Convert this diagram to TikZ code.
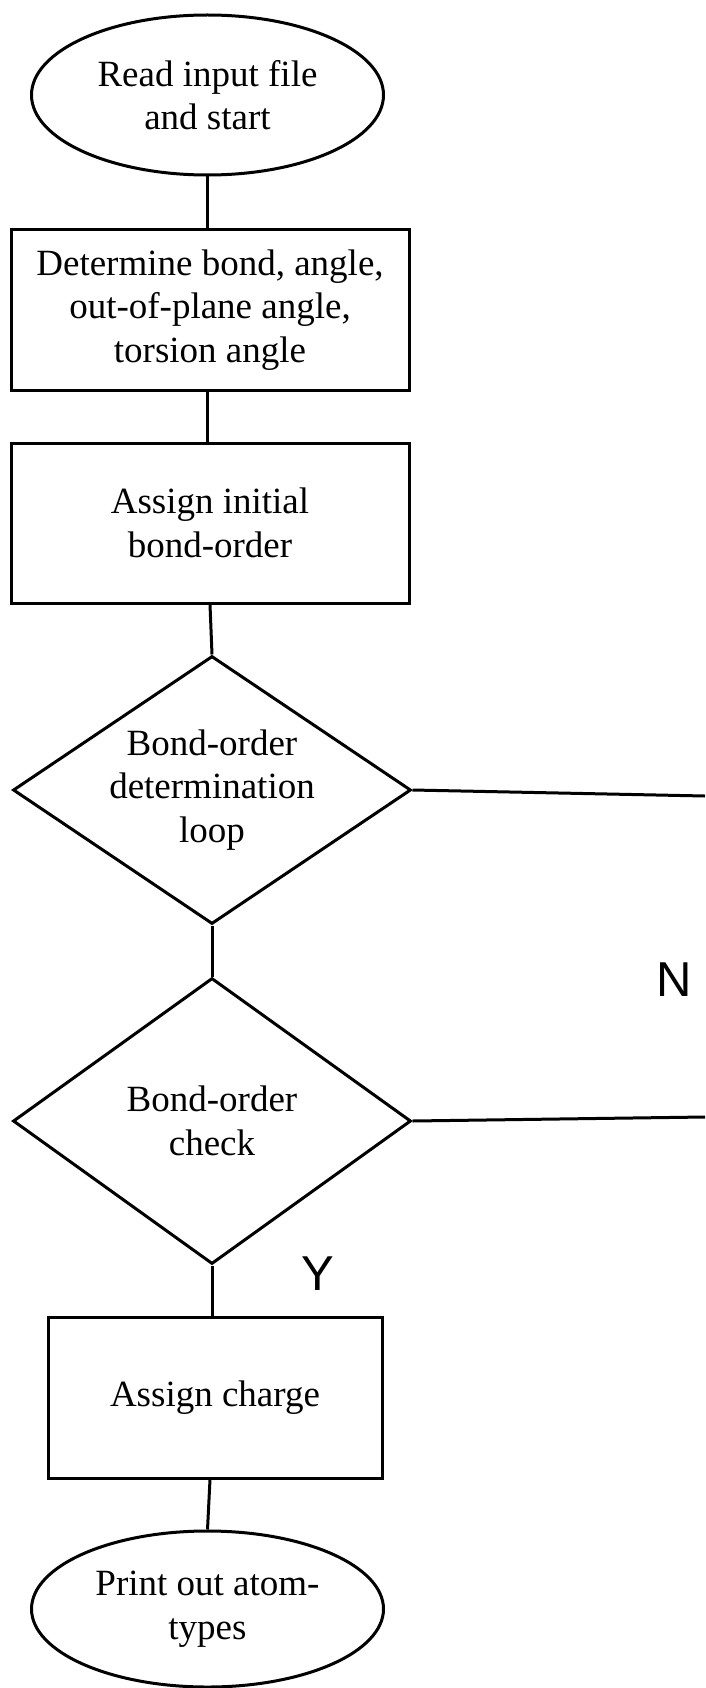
\documentclass[tikz,border=0pt]{standalone}
\usepackage{fontspec}
\setmainfont{Liberation Serif}
\newfontfamily\yesnofont{Liberation Sans}
\usetikzlibrary{shapes.geometric}

\begin{document}
\begin{tikzpicture}[
  x=1pt, y=-1pt,
  line width=3pt,
  term/.style={draw, ellipse, inner sep=0pt, minimum width=352pt, minimum height=160pt, align=center, font=\fontsize{37}{43.5}\selectfont},
  proc/.style={draw, rectangle, inner sep=0pt, minimum width=398pt, minimum height=160pt, align=center, font=\fontsize{37}{43.5}\selectfont},
  decide/.style={draw, diamond, aspect=1.5, inner sep=0pt, minimum width=398pt, align=center, font=\fontsize{37}{43.5}\selectfont},
  link/.style={line width=3pt},
  yesno/.style={inner sep=0pt, font=\yesnofont\fontsize{49}{49}\selectfont},
]
\useasboundingbox (0,0) rectangle (705,1688);

\node[term] (start) at (207.5, 95) {Read input file\\and start};
\node[proc] (geom) at (210, 310) {Determine bond, angle,\\out-of-plane angle,\\torsion angle};
\node[proc] (init) at (210, 523) {Assign initial\\bond-order};
\node[decide, minimum height=268pt] (loop) at (212, 790) {Bond-order\\determination\\loop};
\node[decide, minimum height=286pt] (check) at (212, 1121) {Bond-order\\check};
\node[proc, minimum width=334pt, minimum height=161pt] (charge) at (215, 1397.5) {Assign charge};
\node[term, minimum height=156pt] (stop) at (207.5, 1609) {Print out atom-\\types};

\node[yesno] (no) at (674.5, 979.5) {N};
\node[yesno] (yes) at (318, 1273.5) {Y};

\coordinate (loopend) at (705, 796);
\coordinate (checkend) at (705, 1117);

\draw[link] (start.south) -- (start.south |- geom.north);
\draw[link] (start.south |- geom.south) -- (start.south |- init.north);
\draw[link] (init.south) -- (loop.north);
\draw[link] (loop.south) -- (check.north);
\draw[link] (check.south) -- (check.south |- charge.north);
\draw[link] ([xshift=-5pt]charge.south) -- (stop.north);
\draw[link] (loop.east) -- (loopend);
\draw[link] (check.east) -- (checkend);

\end{tikzpicture}
\end{document}
